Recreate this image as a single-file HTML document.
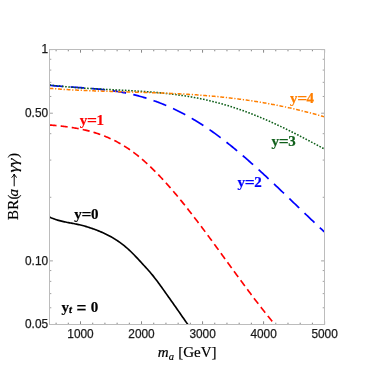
<!DOCTYPE html>
<html><head><meta charset="utf-8"><style>
html,body{margin:0;padding:0;background:#fff;}
svg{display:block;will-change:transform;}
</style></head><body>
<svg width="374" height="374" viewBox="0 0 374 374">
<rect width="374" height="374" fill="#fff"/>
<path d="M56.10,324.5 v-1.8 M56.10,49.5 v1.8 M68.31,324.5 v-1.8 M68.31,49.5 v1.8 M80.51,324.5 v-3.2 M80.51,49.5 v3.2 M92.72,324.5 v-1.8 M92.72,49.5 v1.8 M104.92,324.5 v-1.8 M104.92,49.5 v1.8 M117.12,324.5 v-1.8 M117.12,49.5 v1.8 M129.33,324.5 v-1.8 M129.33,49.5 v1.8 M141.53,324.5 v-3.2 M141.53,49.5 v3.2 M153.74,324.5 v-1.8 M153.74,49.5 v1.8 M165.94,324.5 v-1.8 M165.94,49.5 v1.8 M178.15,324.5 v-1.8 M178.15,49.5 v1.8 M190.35,324.5 v-1.8 M190.35,49.5 v1.8 M202.56,324.5 v-3.2 M202.56,49.5 v3.2 M214.76,324.5 v-1.8 M214.76,49.5 v1.8 M226.96,324.5 v-1.8 M226.96,49.5 v1.8 M239.17,324.5 v-1.8 M239.17,49.5 v1.8 M251.37,324.5 v-1.8 M251.37,49.5 v1.8 M263.58,324.5 v-3.2 M263.58,49.5 v3.2 M275.78,324.5 v-1.8 M275.78,49.5 v1.8 M287.99,324.5 v-1.8 M287.99,49.5 v1.8 M300.19,324.5 v-1.8 M300.19,49.5 v1.8 M312.40,324.5 v-1.8 M312.40,49.5 v1.8 M324.60,324.5 v-3.2 M324.60,49.5 v3.2" stroke="#222222" stroke-width="0.55" fill="none"/>
<path d="M49.5,49.60 h3.4 M324.5,49.60 h-3.4 M49.5,113.21 h3.4 M324.5,113.21 h-3.4 M49.5,260.89 h3.4 M324.5,260.89 h-3.4 M49.5,324.50 h3.4 M324.5,324.50 h-3.4 M49.5,59.27 h1.8 M324.5,59.27 h-1.8 M49.5,70.08 h1.8 M324.5,70.08 h-1.8 M49.5,82.33 h1.8 M324.5,82.33 h-1.8 M49.5,96.48 h1.8 M324.5,96.48 h-1.8 M49.5,133.68 h1.8 M324.5,133.68 h-1.8 M49.5,160.08 h1.8 M324.5,160.08 h-1.8 M49.5,197.29 h1.8 M324.5,197.29 h-1.8 M49.5,270.56 h1.8 M324.5,270.56 h-1.8 M49.5,281.37 h1.8 M324.5,281.37 h-1.8 M49.5,293.62 h1.8 M324.5,293.62 h-1.8 M49.5,307.77 h1.8 M324.5,307.77 h-1.8" stroke="#555" stroke-width="0.55" fill="none"/>
<clipPath id="c"><rect x="49.5" y="49.5" width="275.0" height="275.0"/></clipPath>
<g clip-path="url(#c)" fill="none">
<path d="M49.5,217.02 L50.5,217.48 L51.5,217.93 L52.5,218.34 L53.5,218.73 L54.5,219.10 L55.5,219.45 L56.5,219.78 L57.5,220.09 L58.5,220.38 L59.5,220.66 L60.5,220.92 L61.5,221.17 L62.5,221.40 L63.5,221.63 L64.5,221.84 L65.5,222.05 L66.5,222.25 L67.5,222.44 L68.5,222.63 L69.5,222.82 L70.5,223.00 L71.5,223.18 L72.5,223.37 L73.5,223.56 L74.5,223.75 L75.5,223.94 L76.5,224.14 L77.5,224.35 L78.5,224.57 L79.5,224.80 L80.5,225.03 L81.5,225.28 L82.5,225.54 L83.5,225.80 L84.5,226.08 L85.5,226.36 L86.5,226.66 L87.5,226.96 L88.5,227.27 L89.5,227.59 L90.5,227.92 L91.5,228.26 L92.5,228.61 L93.5,228.96 L94.5,229.33 L95.5,229.70 L96.5,230.08 L97.5,230.47 L98.5,230.87 L99.5,231.28 L100.5,231.70 L101.5,232.13 L102.5,232.57 L103.5,233.02 L104.5,233.48 L105.5,233.95 L106.5,234.44 L107.5,234.94 L108.5,235.45 L109.5,235.98 L110.5,236.52 L111.5,237.08 L112.5,237.65 L113.5,238.24 L114.5,238.85 L115.5,239.48 L116.5,240.12 L117.5,240.78 L118.5,241.46 L119.5,242.16 L120.5,242.87 L121.5,243.61 L122.5,244.37 L123.5,245.15 L124.5,245.96 L125.5,246.78 L126.5,247.63 L127.5,248.50 L128.5,249.40 L129.5,250.32 L130.5,251.26 L131.5,252.23 L132.5,253.22 L133.5,254.24 L134.5,255.26 L135.5,256.31 L136.5,257.36 L137.5,258.43 L138.5,259.51 L139.5,260.59 L140.5,261.68 L141.5,262.77 L142.5,263.85 L143.5,264.94 L144.5,266.02 L145.5,267.11 L146.5,268.20 L147.5,269.31 L148.5,270.43 L149.5,271.56 L150.5,272.73 L151.5,273.91 L152.5,275.13 L153.5,276.38 L154.5,277.65 L155.5,278.94 L156.5,280.26 L157.5,281.59 L158.5,282.94 L159.5,284.31 L160.5,285.68 L161.5,287.07 L162.5,288.47 L163.5,289.88 L164.5,291.29 L165.5,292.70 L166.5,294.12 L167.5,295.53 L168.5,296.94 L169.5,298.35 L170.5,299.76 L171.5,301.17 L172.5,302.58 L173.5,304.00 L174.5,305.42 L175.5,306.84 L176.5,308.27 L177.5,309.71 L178.5,311.14 L179.5,312.58 L180.5,314.03 L181.5,315.47 L182.5,316.91 L183.5,318.34 L184.5,319.77 L185.5,321.20 L186.5,322.62 L187.5,324.03 L188.5,325.42 L189.5,326.80 L190.0,327.49" stroke="#000000" stroke-width="1.65"/>
<path d="M49.5,124.98 L50.5,125.07 L51.5,125.16 L52.5,125.24 L53.5,125.34 L54.5,125.43 L55.5,125.52 L56.5,125.62 L57.5,125.72 L58.5,125.82 L59.5,125.93 L60.5,126.04 L61.5,126.15 L62.5,126.26 L63.5,126.38 L64.5,126.50 L65.5,126.63 L66.5,126.76 L67.5,126.89 L68.5,127.03 L69.5,127.17 L70.5,127.32 L71.5,127.47 L72.5,127.62 L73.5,127.79 L74.5,127.95 L75.5,128.12 L76.5,128.30 L77.5,128.48 L78.5,128.67 L79.5,128.86 L80.5,129.06 L81.5,129.27 L82.5,129.48 L83.5,129.70 L84.5,129.93 L85.5,130.16 L86.5,130.40 L87.5,130.65 L88.5,130.90 L89.5,131.16 L90.5,131.43 L91.5,131.71 L92.5,131.99 L93.5,132.29 L94.5,132.59 L95.5,132.90 L96.5,133.22 L97.5,133.54 L98.5,133.88 L99.5,134.22 L100.5,134.57 L101.5,134.94 L102.5,135.31 L103.5,135.69 L104.5,136.08 L105.5,136.48 L106.5,136.90 L107.5,137.32 L108.5,137.75 L109.5,138.19 L110.5,138.64 L111.5,139.11 L112.5,139.58 L113.5,140.07 L114.5,140.57 L115.5,141.08 L116.5,141.60 L117.5,142.13 L118.5,142.67 L119.5,143.23 L120.5,143.80 L121.5,144.38 L122.5,144.97 L123.5,145.58 L124.5,146.20 L125.5,146.83 L126.5,147.47 L127.5,148.13 L128.5,148.80 L129.5,149.49 L130.5,150.18 L131.5,150.90 L132.5,151.62 L133.5,152.36 L134.5,153.12 L135.5,153.88 L136.5,154.66 L137.5,155.46 L138.5,156.26 L139.5,157.08 L140.5,157.91 L141.5,158.76 L142.5,159.61 L143.5,160.48 L144.5,161.36 L145.5,162.25 L146.5,163.16 L147.5,164.07 L148.5,165.00 L149.5,165.94 L150.5,166.89 L151.5,167.85 L152.5,168.82 L153.5,169.81 L154.5,170.80 L155.5,171.80 L156.5,172.82 L157.5,173.84 L158.5,174.88 L159.5,175.92 L160.5,176.97 L161.5,178.04 L162.5,179.11 L163.5,180.20 L164.5,181.29 L165.5,182.39 L166.5,183.50 L167.5,184.62 L168.5,185.75 L169.5,186.88 L170.5,188.03 L171.5,189.18 L172.5,190.34 L173.5,191.51 L174.5,192.69 L175.5,193.87 L176.5,195.06 L177.5,196.26 L178.5,197.47 L179.5,198.68 L180.5,199.90 L181.5,201.13 L182.5,202.37 L183.5,203.61 L184.5,204.85 L185.5,206.10 L186.5,207.36 L187.5,208.63 L188.5,209.90 L189.5,211.17 L190.5,212.46 L191.5,213.74 L192.5,215.03 L193.5,216.33 L194.5,217.63 L195.5,218.94 L196.5,220.25 L197.5,221.56 L198.5,222.88 L199.5,224.20 L200.5,225.53 L201.5,226.86 L202.5,228.20 L203.5,229.54 L204.5,230.88 L205.5,232.22 L206.5,233.57 L207.5,234.92 L208.5,236.27 L209.5,237.63 L210.5,238.99 L211.5,240.35 L212.5,241.71 L213.5,243.07 L214.5,244.44 L215.5,245.81 L216.5,247.18 L217.5,248.55 L218.5,249.92 L219.5,251.29 L220.5,252.67 L221.5,254.04 L222.5,255.42 L223.5,256.79 L224.5,258.17 L225.5,259.55 L226.5,260.92 L227.5,262.30 L228.5,263.68 L229.5,265.05 L230.5,266.43 L231.5,267.80 L232.5,269.18 L233.5,270.55 L234.5,271.92 L235.5,273.29 L236.5,274.66 L237.5,276.03 L238.5,277.39 L239.5,278.76 L240.5,280.12 L241.5,281.48 L242.5,282.84 L243.5,284.19 L244.5,285.54 L245.5,286.89 L246.5,288.24 L247.5,289.58 L248.5,290.92 L249.5,292.26 L250.5,293.59 L251.5,294.92 L252.5,296.25 L253.5,297.57 L254.5,298.89 L255.5,300.20 L256.5,301.51 L257.5,302.81 L258.5,304.11 L259.5,305.41 L260.5,306.70 L261.5,307.98 L262.5,309.26 L263.5,310.53 L264.5,311.80 L265.5,313.06 L266.5,314.32 L267.5,315.57 L268.5,316.82 L269.5,318.05 L270.5,319.28 L271.5,320.51 L272.5,321.73 L273.5,322.94 L274.5,324.14 L275.5,325.34" stroke="#ff0000" stroke-width="1.65" stroke-dasharray="7.05,4.13"/>
<path d="M49.5,85.33 L50.5,85.43 L51.5,85.52 L52.5,85.61 L53.5,85.69 L54.5,85.78 L55.5,85.86 L56.5,85.94 L57.5,86.03 L58.5,86.10 L59.5,86.18 L60.5,86.26 L61.5,86.33 L62.5,86.41 L63.5,86.48 L64.5,86.55 L65.5,86.62 L66.5,86.69 L67.5,86.76 L68.5,86.83 L69.5,86.90 L70.5,86.97 L71.5,87.04 L72.5,87.10 L73.5,87.17 L74.5,87.24 L75.5,87.31 L76.5,87.38 L77.5,87.45 L78.5,87.51 L79.5,87.58 L80.5,87.65 L81.5,87.72 L82.5,87.80 L83.5,87.87 L84.5,87.94 L85.5,88.02 L86.5,88.09 L87.5,88.17 L88.5,88.25 L89.5,88.33 L90.5,88.41 L91.5,88.49 L92.5,88.57 L93.5,88.66 L94.5,88.75 L95.5,88.84 L96.5,88.93 L97.5,89.03 L98.5,89.12 L99.5,89.22 L100.5,89.32 L101.5,89.43 L102.5,89.53 L103.5,89.64 L104.5,89.76 L105.5,89.87 L106.5,89.99 L107.5,90.11 L108.5,90.24 L109.5,90.36 L110.5,90.49 L111.5,90.63 L112.5,90.77 L113.5,90.91 L114.5,91.06 L115.5,91.20 L116.5,91.36 L117.5,91.52 L118.5,91.68 L119.5,91.84 L120.5,92.01 L121.5,92.19 L122.5,92.37 L123.5,92.55 L124.5,92.74 L125.5,92.94 L126.5,93.13 L127.5,93.34 L128.5,93.55 L129.5,93.76 L130.5,93.98 L131.5,94.20 L132.5,94.43 L133.5,94.67 L134.5,94.91 L135.5,95.16 L136.5,95.41 L137.5,95.67 L138.5,95.93 L139.5,96.20 L140.5,96.47 L141.5,96.75 L142.5,97.04 L143.5,97.33 L144.5,97.63 L145.5,97.93 L146.5,98.24 L147.5,98.56 L148.5,98.88 L149.5,99.21 L150.5,99.54 L151.5,99.88 L152.5,100.22 L153.5,100.57 L154.5,100.93 L155.5,101.29 L156.5,101.66 L157.5,102.03 L158.5,102.41 L159.5,102.79 L160.5,103.18 L161.5,103.58 L162.5,103.98 L163.5,104.39 L164.5,104.80 L165.5,105.22 L166.5,105.65 L167.5,106.08 L168.5,106.52 L169.5,106.96 L170.5,107.41 L171.5,107.87 L172.5,108.33 L173.5,108.79 L174.5,109.27 L175.5,109.75 L176.5,110.23 L177.5,110.72 L178.5,111.22 L179.5,111.72 L180.5,112.23 L181.5,112.75 L182.5,113.27 L183.5,113.80 L184.5,114.33 L185.5,114.87 L186.5,115.42 L187.5,115.97 L188.5,116.52 L189.5,117.09 L190.5,117.66 L191.5,118.23 L192.5,118.82 L193.5,119.40 L194.5,120.00 L195.5,120.60 L196.5,121.20 L197.5,121.82 L198.5,122.44 L199.5,123.06 L200.5,123.69 L201.5,124.33 L202.5,124.97 L203.5,125.62 L204.5,126.28 L205.5,126.94 L206.5,127.61 L207.5,128.28 L208.5,128.96 L209.5,129.65 L210.5,130.34 L211.5,131.04 L212.5,131.75 L213.5,132.46 L214.5,133.18 L215.5,133.90 L216.5,134.63 L217.5,135.37 L218.5,136.11 L219.5,136.85 L220.5,137.60 L221.5,138.36 L222.5,139.12 L223.5,139.89 L224.5,140.66 L225.5,141.44 L226.5,142.23 L227.5,143.02 L228.5,143.81 L229.5,144.61 L230.5,145.41 L231.5,146.22 L232.5,147.03 L233.5,147.85 L234.5,148.67 L235.5,149.50 L236.5,150.33 L237.5,151.16 L238.5,152.00 L239.5,152.84 L240.5,153.69 L241.5,154.54 L242.5,155.40 L243.5,156.25 L244.5,157.12 L245.5,157.98 L246.5,158.85 L247.5,159.73 L248.5,160.61 L249.5,161.49 L250.5,162.37 L251.5,163.26 L252.5,164.15 L253.5,165.04 L254.5,165.94 L255.5,166.84 L256.5,167.74 L257.5,168.65 L258.5,169.55 L259.5,170.46 L260.5,171.38 L261.5,172.29 L262.5,173.21 L263.5,174.13 L264.5,175.06 L265.5,175.98 L266.5,176.91 L267.5,177.84 L268.5,178.77 L269.5,179.71 L270.5,180.64 L271.5,181.58 L272.5,182.52 L273.5,183.46 L274.5,184.40 L275.5,185.35 L276.5,186.29 L277.5,187.24 L278.5,188.19 L279.5,189.14 L280.5,190.09 L281.5,191.04 L282.5,192.00 L283.5,192.95 L284.5,193.90 L285.5,194.86 L286.5,195.82 L287.5,196.77 L288.5,197.73 L289.5,198.69 L290.5,199.65 L291.5,200.61 L292.5,201.57 L293.5,202.53 L294.5,203.49 L295.5,204.45 L296.5,205.41 L297.5,206.37 L298.5,207.33 L299.5,208.28 L300.5,209.24 L301.5,210.20 L302.5,211.16 L303.5,212.12 L304.5,213.08 L305.5,214.03 L306.5,214.99 L307.5,215.94 L308.5,216.90 L309.5,217.85 L310.5,218.81 L311.5,219.76 L312.5,220.71 L313.5,221.66 L314.5,222.60 L315.5,223.55 L316.5,224.50 L317.5,225.44 L318.5,226.38 L319.5,227.32 L320.5,228.26 L321.5,229.20 L322.5,230.13 L323.5,231.06 L324.5,231.99" stroke="#0000ff" stroke-width="1.7" stroke-dasharray="13.7,7.4"/>
<path d="M49.5,84.90 L50.5,85.03 L51.5,85.16 L52.5,85.28 L53.5,85.40 L54.5,85.51 L55.5,85.63 L56.5,85.74 L57.5,85.85 L58.5,85.96 L59.5,86.07 L60.5,86.17 L61.5,86.27 L62.5,86.37 L63.5,86.47 L64.5,86.57 L65.5,86.66 L66.5,86.76 L67.5,86.85 L68.5,86.94 L69.5,87.02 L70.5,87.11 L71.5,87.19 L72.5,87.28 L73.5,87.36 L74.5,87.44 L75.5,87.52 L76.5,87.59 L77.5,87.67 L78.5,87.74 L79.5,87.81 L80.5,87.88 L81.5,87.95 L82.5,88.02 L83.5,88.09 L84.5,88.16 L85.5,88.22 L86.5,88.29 L87.5,88.35 L88.5,88.41 L89.5,88.47 L90.5,88.53 L91.5,88.59 L92.5,88.65 L93.5,88.71 L94.5,88.77 L95.5,88.82 L96.5,88.88 L97.5,88.94 L98.5,88.99 L99.5,89.04 L100.5,89.10 L101.5,89.15 L102.5,89.20 L103.5,89.26 L104.5,89.31 L105.5,89.36 L106.5,89.41 L107.5,89.46 L108.5,89.51 L109.5,89.56 L110.5,89.62 L111.5,89.67 L112.5,89.72 L113.5,89.77 L114.5,89.82 L115.5,89.87 L116.5,89.92 L117.5,89.97 L118.5,90.02 L119.5,90.08 L120.5,90.13 L121.5,90.18 L122.5,90.23 L123.5,90.29 L124.5,90.34 L125.5,90.39 L126.5,90.45 L127.5,90.50 L128.5,90.56 L129.5,90.61 L130.5,90.67 L131.5,90.73 L132.5,90.79 L133.5,90.85 L134.5,90.91 L135.5,90.97 L136.5,91.03 L137.5,91.09 L138.5,91.16 L139.5,91.22 L140.5,91.29 L141.5,91.35 L142.5,91.42 L143.5,91.49 L144.5,91.56 L145.5,91.63 L146.5,91.71 L147.5,91.78 L148.5,91.86 L149.5,91.93 L150.5,92.01 L151.5,92.09 L152.5,92.18 L153.5,92.26 L154.5,92.34 L155.5,92.43 L156.5,92.52 L157.5,92.61 L158.5,92.70 L159.5,92.80 L160.5,92.89 L161.5,92.99 L162.5,93.09 L163.5,93.19 L164.5,93.29 L165.5,93.40 L166.5,93.51 L167.5,93.62 L168.5,93.73 L169.5,93.84 L170.5,93.96 L171.5,94.08 L172.5,94.20 L173.5,94.32 L174.5,94.45 L175.5,94.57 L176.5,94.70 L177.5,94.84 L178.5,94.97 L179.5,95.11 L180.5,95.25 L181.5,95.40 L182.5,95.54 L183.5,95.69 L184.5,95.84 L185.5,96.00 L186.5,96.16 L187.5,96.32 L188.5,96.48 L189.5,96.65 L190.5,96.82 L191.5,96.99 L192.5,97.17 L193.5,97.34 L194.5,97.53 L195.5,97.71 L196.5,97.90 L197.5,98.09 L198.5,98.29 L199.5,98.49 L200.5,98.69 L201.5,98.89 L202.5,99.10 L203.5,99.32 L204.5,99.53 L205.5,99.75 L206.5,99.97 L207.5,100.20 L208.5,100.43 L209.5,100.67 L210.5,100.91 L211.5,101.15 L212.5,101.39 L213.5,101.64 L214.5,101.90 L215.5,102.16 L216.5,102.42 L217.5,102.68 L218.5,102.95 L219.5,103.22 L220.5,103.50 L221.5,103.78 L222.5,104.06 L223.5,104.35 L224.5,104.64 L225.5,104.94 L226.5,105.23 L227.5,105.54 L228.5,105.84 L229.5,106.15 L230.5,106.46 L231.5,106.78 L232.5,107.10 L233.5,107.42 L234.5,107.75 L235.5,108.08 L236.5,108.41 L237.5,108.75 L238.5,109.09 L239.5,109.44 L240.5,109.79 L241.5,110.14 L242.5,110.49 L243.5,110.85 L244.5,111.21 L245.5,111.58 L246.5,111.94 L247.5,112.32 L248.5,112.69 L249.5,113.07 L250.5,113.45 L251.5,113.84 L252.5,114.23 L253.5,114.62 L254.5,115.01 L255.5,115.41 L256.5,115.81 L257.5,116.22 L258.5,116.62 L259.5,117.04 L260.5,117.45 L261.5,117.87 L262.5,118.29 L263.5,118.71 L264.5,119.14 L265.5,119.57 L266.5,120.00 L267.5,120.44 L268.5,120.88 L269.5,121.32 L270.5,121.77 L271.5,122.22 L272.5,122.67 L273.5,123.12 L274.5,123.58 L275.5,124.04 L276.5,124.50 L277.5,124.97 L278.5,125.44 L279.5,125.91 L280.5,126.38 L281.5,126.86 L282.5,127.34 L283.5,127.82 L284.5,128.30 L285.5,128.79 L286.5,129.28 L287.5,129.77 L288.5,130.26 L289.5,130.76 L290.5,131.25 L291.5,131.75 L292.5,132.25 L293.5,132.76 L294.5,133.26 L295.5,133.77 L296.5,134.28 L297.5,134.79 L298.5,135.30 L299.5,135.81 L300.5,136.33 L301.5,136.84 L302.5,137.36 L303.5,137.88 L304.5,138.40 L305.5,138.92 L306.5,139.45 L307.5,139.97 L308.5,140.50 L309.5,141.02 L310.5,141.55 L311.5,142.08 L312.5,142.61 L313.5,143.14 L314.5,143.67 L315.5,144.21 L316.5,144.74 L317.5,145.27 L318.5,145.81 L319.5,146.34 L320.5,146.88 L321.5,147.42 L322.5,147.95 L323.5,148.49 L324.5,149.03" stroke="#0f5f1a" stroke-width="1.55" stroke-dasharray="1.6,1.55"/>
<path d="M49.5,88.31 L50.5,88.40 L51.5,88.48 L52.5,88.56 L53.5,88.64 L54.5,88.72 L55.5,88.80 L56.5,88.88 L57.5,88.95 L58.5,89.03 L59.5,89.10 L60.5,89.17 L61.5,89.24 L62.5,89.30 L63.5,89.37 L64.5,89.44 L65.5,89.50 L66.5,89.56 L67.5,89.62 L68.5,89.68 L69.5,89.74 L70.5,89.80 L71.5,89.85 L72.5,89.91 L73.5,89.96 L74.5,90.01 L75.5,90.06 L76.5,90.11 L77.5,90.16 L78.5,90.21 L79.5,90.26 L80.5,90.31 L81.5,90.35 L82.5,90.40 L83.5,90.44 L84.5,90.48 L85.5,90.53 L86.5,90.57 L87.5,90.61 L88.5,90.65 L89.5,90.69 L90.5,90.73 L91.5,90.76 L92.5,90.80 L93.5,90.84 L94.5,90.88 L95.5,90.91 L96.5,90.95 L97.5,90.98 L98.5,91.02 L99.5,91.05 L100.5,91.08 L101.5,91.12 L102.5,91.15 L103.5,91.18 L104.5,91.21 L105.5,91.24 L106.5,91.28 L107.5,91.31 L108.5,91.34 L109.5,91.37 L110.5,91.40 L111.5,91.43 L112.5,91.46 L113.5,91.49 L114.5,91.52 L115.5,91.55 L116.5,91.58 L117.5,91.61 L118.5,91.63 L119.5,91.66 L120.5,91.69 L121.5,91.72 L122.5,91.75 L123.5,91.78 L124.5,91.81 L125.5,91.84 L126.5,91.86 L127.5,91.89 L128.5,91.92 L129.5,91.95 L130.5,91.98 L131.5,92.01 L132.5,92.04 L133.5,92.07 L134.5,92.10 L135.5,92.13 L136.5,92.16 L137.5,92.19 L138.5,92.22 L139.5,92.25 L140.5,92.28 L141.5,92.31 L142.5,92.34 L143.5,92.37 L144.5,92.40 L145.5,92.43 L146.5,92.47 L147.5,92.50 L148.5,92.53 L149.5,92.57 L150.5,92.60 L151.5,92.63 L152.5,92.67 L153.5,92.70 L154.5,92.74 L155.5,92.78 L156.5,92.81 L157.5,92.85 L158.5,92.89 L159.5,92.93 L160.5,92.96 L161.5,93.00 L162.5,93.04 L163.5,93.08 L164.5,93.13 L165.5,93.17 L166.5,93.21 L167.5,93.25 L168.5,93.30 L169.5,93.34 L170.5,93.39 L171.5,93.43 L172.5,93.48 L173.5,93.53 L174.5,93.58 L175.5,93.63 L176.5,93.68 L177.5,93.73 L178.5,93.78 L179.5,93.83 L180.5,93.88 L181.5,93.94 L182.5,93.99 L183.5,94.05 L184.5,94.11 L185.5,94.16 L186.5,94.22 L187.5,94.28 L188.5,94.34 L189.5,94.41 L190.5,94.47 L191.5,94.53 L192.5,94.60 L193.5,94.67 L194.5,94.73 L195.5,94.80 L196.5,94.87 L197.5,94.94 L198.5,95.01 L199.5,95.09 L200.5,95.16 L201.5,95.24 L202.5,95.31 L203.5,95.39 L204.5,95.47 L205.5,95.55 L206.5,95.63 L207.5,95.72 L208.5,95.80 L209.5,95.89 L210.5,95.97 L211.5,96.06 L212.5,96.15 L213.5,96.24 L214.5,96.34 L215.5,96.43 L216.5,96.53 L217.5,96.62 L218.5,96.72 L219.5,96.82 L220.5,96.92 L221.5,97.03 L222.5,97.13 L223.5,97.24 L224.5,97.34 L225.5,97.45 L226.5,97.56 L227.5,97.68 L228.5,97.79 L229.5,97.90 L230.5,98.02 L231.5,98.14 L232.5,98.26 L233.5,98.38 L234.5,98.50 L235.5,98.62 L236.5,98.75 L237.5,98.88 L238.5,99.01 L239.5,99.14 L240.5,99.27 L241.5,99.40 L242.5,99.54 L243.5,99.67 L244.5,99.81 L245.5,99.95 L246.5,100.09 L247.5,100.24 L248.5,100.38 L249.5,100.53 L250.5,100.68 L251.5,100.83 L252.5,100.98 L253.5,101.13 L254.5,101.29 L255.5,101.45 L256.5,101.60 L257.5,101.76 L258.5,101.93 L259.5,102.09 L260.5,102.26 L261.5,102.42 L262.5,102.59 L263.5,102.76 L264.5,102.94 L265.5,103.11 L266.5,103.29 L267.5,103.47 L268.5,103.65 L269.5,103.83 L270.5,104.01 L271.5,104.20 L272.5,104.39 L273.5,104.58 L274.5,104.77 L275.5,104.96 L276.5,105.15 L277.5,105.35 L278.5,105.55 L279.5,105.75 L280.5,105.95 L281.5,106.16 L282.5,106.37 L283.5,106.57 L284.5,106.78 L285.5,107.00 L286.5,107.21 L287.5,107.43 L288.5,107.65 L289.5,107.87 L290.5,108.09 L291.5,108.31 L292.5,108.54 L293.5,108.77 L294.5,109.00 L295.5,109.23 L296.5,109.46 L297.5,109.70 L298.5,109.94 L299.5,110.18 L300.5,110.42 L301.5,110.67 L302.5,110.92 L303.5,111.16 L304.5,111.42 L305.5,111.67 L306.5,111.92 L307.5,112.18 L308.5,112.44 L309.5,112.70 L310.5,112.97 L311.5,113.23 L312.5,113.50 L313.5,113.77 L314.5,114.05 L315.5,114.32 L316.5,114.60 L317.5,114.88 L318.5,115.16 L319.5,115.44 L320.5,115.73 L321.5,116.02 L322.5,116.31 L323.5,116.60 L324.5,116.90" stroke="#ff7f00" stroke-width="1.5" stroke-dasharray="3.9,1.7,1.25,1.7"/>
</g>
<rect x="49.5" y="49.5" width="275.0" height="275.0" fill="none" stroke="#bcbcbc" stroke-width="1"/>
<g font-family="Liberation Sans, sans-serif" font-size="11.85" fill="#1a1a1a" stroke="#1a1a1a" stroke-width="0.25"><text x="80.51" y="337.7" text-anchor="middle">1000</text><text x="141.53" y="337.7" text-anchor="middle">2000</text><text x="202.56" y="337.7" text-anchor="middle">3000</text><text x="263.58" y="337.7" text-anchor="middle">4000</text><text x="324.60" y="337.7" text-anchor="middle">5000</text><text x="48.1" y="53.30" text-anchor="end">1</text><text x="48.1" y="116.91" text-anchor="end">0.50</text><text x="48.1" y="264.59" text-anchor="end">0.10</text><text x="48.1" y="328.20" text-anchor="end">0.05</text></g>
<g font-family="Liberation Serif, serif" font-weight="bold" font-size="15" stroke-width="0.2"><g fill="#000" stroke="#000"><text x="74.30" y="219.3">y</text><text transform="translate(86.55,219.3) scale(1.17,1)" text-anchor="middle">=</text><text x="90.95" y="219.3">0</text></g><g fill="#ff0000" stroke="#ff0000"><text x="79.80" y="124.8">y</text><text transform="translate(92.05,124.8) scale(1.17,1)" text-anchor="middle">=</text><text x="96.45" y="124.8">1</text></g><g fill="#0000ff" stroke="#0000ff"><text x="237.60" y="186.6">y</text><text transform="translate(249.85,186.6) scale(1.17,1)" text-anchor="middle">=</text><text x="254.25" y="186.6">2</text></g><g fill="#0f5f1a" stroke="#0f5f1a"><text x="271.60" y="146.0">y</text><text transform="translate(283.85,146.0) scale(1.17,1)" text-anchor="middle">=</text><text x="288.25" y="146.0">3</text></g><g fill="#ff7f00" stroke="#ff7f00"><text x="289.90" y="103.0">y</text><text transform="translate(302.15,103.0) scale(1.17,1)" text-anchor="middle">=</text><text x="306.55" y="103.0">4</text></g></g>
<g font-family="Liberation Serif, serif" font-weight="bold" font-size="15" fill="#000" stroke="#000" stroke-width="0.2"><text x="61.4" y="311.9">y</text><text x="68.9" y="313.4" font-size="10.5" font-style="italic" stroke-width="0.3">t</text><text transform="translate(81.5,308.15) scale(1.17,1.2)" y="5.0" text-anchor="middle">=</text><text x="90.8" y="311.9">0</text></g>
<g font-family="Liberation Serif, serif" font-size="15" fill="#000" stroke="#000" stroke-width="0.2"><text x="157.8" y="356.9"><tspan font-style="italic">m</tspan><tspan font-style="italic" font-size="10.5" dy="3.2">a</tspan><tspan dy="-3.2" dx="0.6"> [GeV]</tspan></text><g transform="translate(18.1,219.9) rotate(-90)"><text x="0" y="0" letter-spacing="0.15">BR(</text><text x="23.3" y="0" font-style="italic">a</text><path d="M33.6,-3.9 H45.6 M42.4,-6.6 Q43.4,-4.6 45.9,-3.9 Q43.4,-3.2 42.4,-1.2" fill="none" stroke-width="1.0"/><text transform="translate(47.3,0) scale(1.2,1)" font-style="italic">γγ</text><text x="61.8" y="0">)</text></g></g>
</svg>
</body></html>
